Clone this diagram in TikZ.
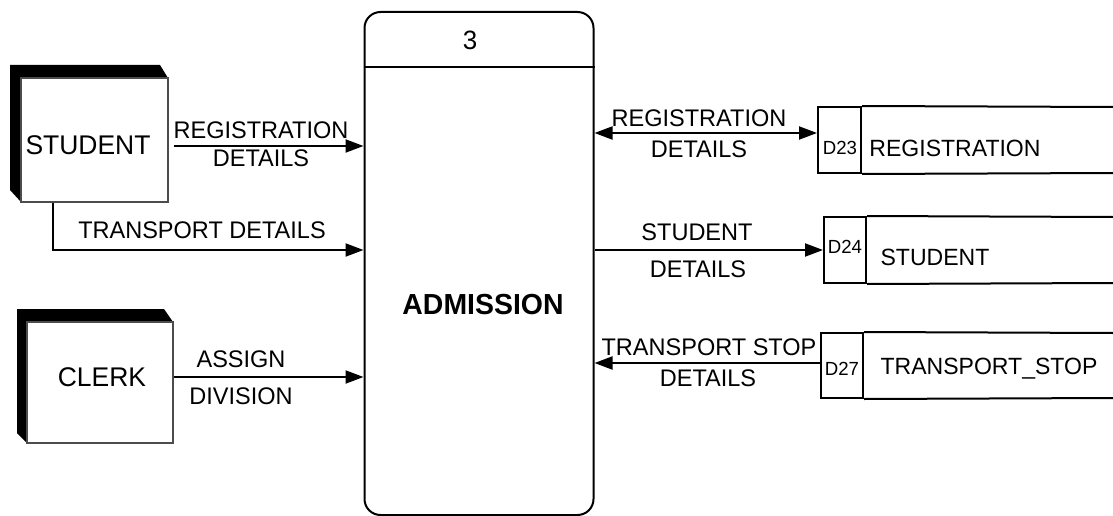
\documentclass[tikz,border=0pt]{standalone}
\usepackage{fontspec}
\setmainfont[FakeStretch=0.98]{Liberation Sans}
\usetikzlibrary{arrows.meta,calc}
\begin{document}
\begin{tikzpicture}[x=1pt,y=-1pt,
  flow/.style={line width=2pt,-{Triangle[length=18pt,width=13pt]}},
  biflow/.style={line width=2pt,{Triangle[length=18pt,width=13pt]}-{Triangle[length=18pt,width=13pt]}},
  lbl/.style={inner sep=0pt,font=\fontsize{24}{26}\selectfont},
  entbox/.style={draw=black!70,line width=1.2pt,fill=white,inner sep=0pt},
  enttxt/.style={inner sep=0pt,font=\fontsize{27}{29}\selectfont},
  idbox/.style={draw,line width=2pt,inner sep=0pt},
  idtxt/.style={inner sep=0pt,font=\fontsize{19}{21}\selectfont},
  storetxt/.style={inner sep=0pt,font=\fontsize{23.5}{25}\selectfont},
  storeline/.style={line width=2pt}
]
\useasboundingbox (0,0) rectangle (1113,516);

% process
\node[draw,line width=2pt,rounded corners=16pt,minimum width=229pt,minimum height=503pt,inner sep=0pt] (proc) at (479,263.5) {};
\coordinate (divl) at (365,67);
\coordinate (divr) at (593,67);
\draw[line width=2pt] (proc.west |- divl) -- (proc.east |- divr);
\node[inner sep=0pt,font=\fontsize{26.5}{28}\selectfont] (pnum) at (470,40) {3};
\node[inner sep=0pt,font=\bfseries\fontsize{29}{31}\selectfont] (pname) at (483,305) {ADMISSION};

% student entity
\fill (10,65) -- (160,65) -- (168,78) -- (21,78) -- (21,202) -- (10,190) -- cycle;
\node[entbox,minimum width=147pt,minimum height=124pt] (student) at (94.5,140) {};
\node[enttxt] (studenttxt) at (88,145) {STUDENT};

% clerk entity
\fill (17,309) -- (164,309) -- (173,322) -- (27,322) -- (27,443) -- (17,433) -- cycle;
\node[entbox,minimum width=146pt,minimum height=121pt] (clerk) at (100,382.5) {};
\node[enttxt] (clerktxt) at (102,377) {CLERK};

% data stores
\node[idbox,minimum width=43pt,minimum height=66pt] (d23) at (839.5,140) {};
\draw[storeline] (d23.north east) -- (1113,107);
\draw[storeline] (d23.south east) -- (1113,173);
\node[idtxt] (d23id) at (840,148) {D23};
\node[storetxt] (d23name) at (955,148) {REGISTRATION};

\node[idbox,minimum width=42pt,minimum height=66pt] (d24) at (845,250) {};
\draw[storeline] (d24.north east) -- (1113,217);
\draw[storeline] (d24.south east) -- (1113,283);
\node[idtxt] (d24id) at (845,247) {D24};
\node[storetxt] (d24name) at (935,257) {STUDENT};

\node[idbox,minimum width=42pt,minimum height=65pt] (d27) at (842,365.5) {};
\draw[storeline] (d27.north east) -- (1113,333);
\draw[storeline] (d27.south east) -- (1113,398);
\node[idtxt] (d27id) at (842,369) {D27};
\node[storetxt] (d27name) at (989,369) {TRANSPORT\_STOP};

% left flows
\draw[flow,shorten <=5pt] (student.east |- 0,146) -- (proc.west |- 0,146);
\node[lbl] (l1a) at (261,130) {REGISTRATION};
\node[lbl] (l1b) at (261,158) {DETAILS};

\draw[flow] (student.south -| 53,0) -- (53,250) -- (proc.west |- 0,250);
\node[lbl] (l2) at (202,230) {TRANSPORT DETAILS};

\draw[flow] (clerk.east |- 0,377) -- (proc.west |- 0,377);
\node[lbl] (l3a) at (241,359) {ASSIGN};
\node[lbl] (l3b) at (241,396) {DIVISION};

% right flows
\draw[biflow] (proc.east |- 0,133) -- (d23.west |- 0,133);
\node[lbl] (r1a) at (699,118) {REGISTRATION};
\node[lbl] (r1b) at (699,149) {DETAILS};

\draw[flow] (proc.east |- 0,250) -- (d24.west |- 0,250);
\node[lbl] (r2a) at (697,232) {STUDENT};
\node[lbl] (r2b) at (698,269) {DETAILS};

\draw[flow] (d27.west |- 0,363) -- (proc.east |- 0,363);
\node[lbl] (r3a) at (709,347) {TRANSPORT STOP};
\node[lbl] (r3b) at (708,378) {DETAILS};
\end{tikzpicture}
\end{document}
